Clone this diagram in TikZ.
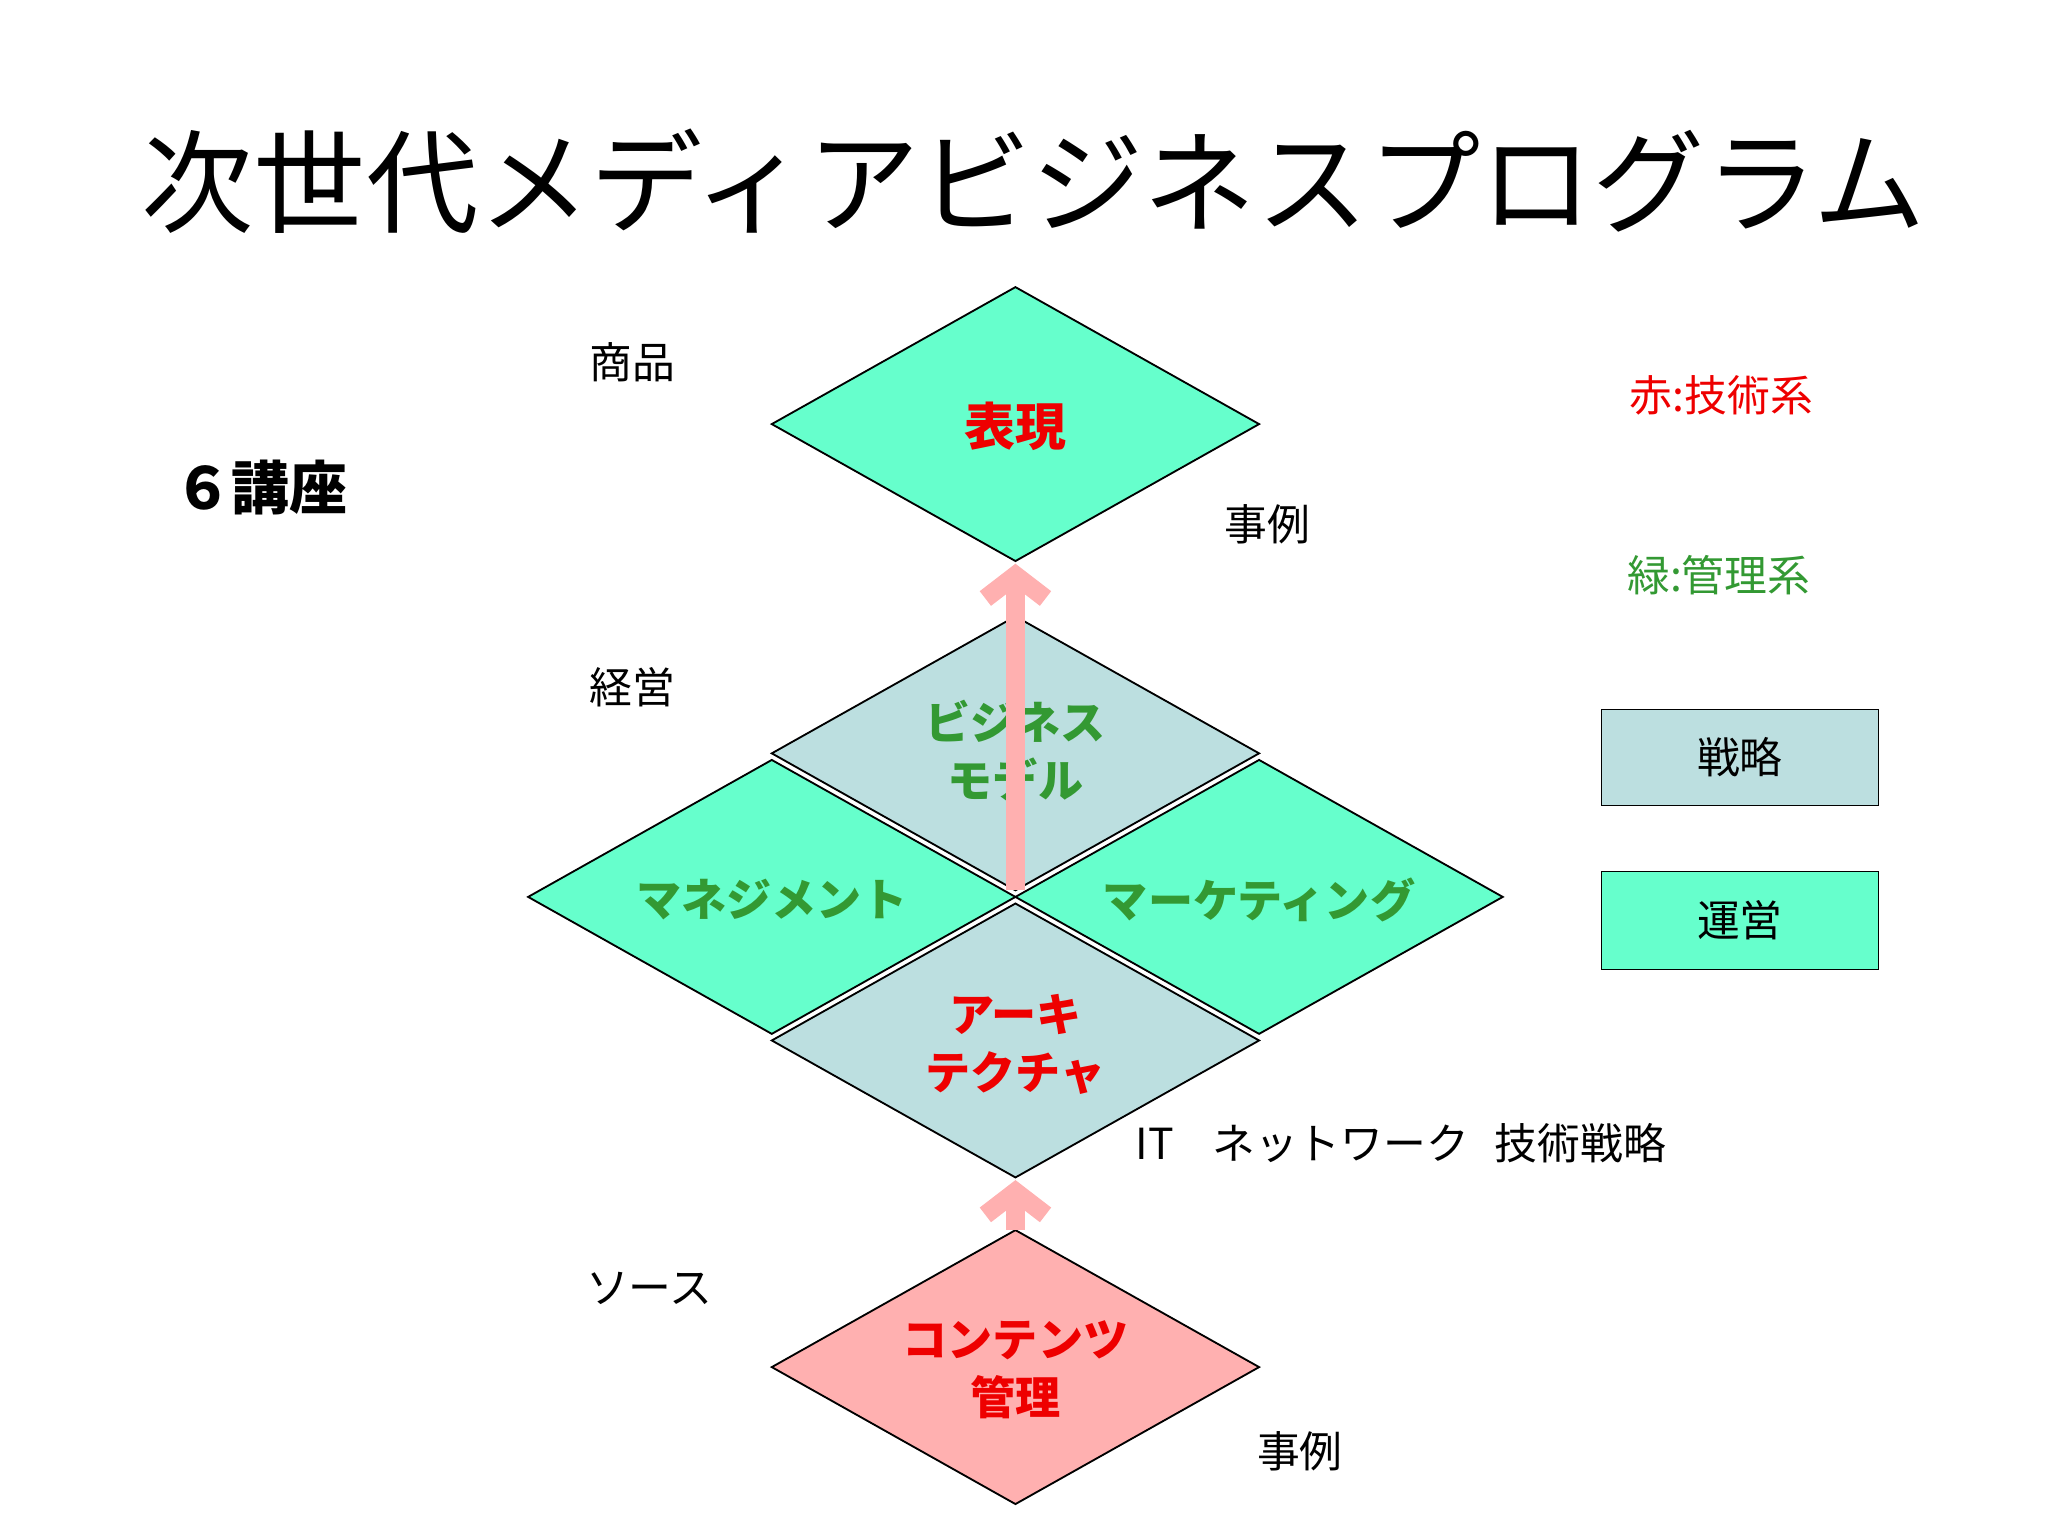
\documentclass[tikz,border=0pt]{standalone}
\usepackage{fontspec}
\setmainfont{Noto Sans CJK JP}
\usetikzlibrary{arrows.meta}
\definecolor{gr}{HTML}{66FFCC}
\definecolor{bl}{HTML}{BCDFE0}
\definecolor{pk}{HTML}{FFB0B0}
\definecolor{dg}{HTML}{339933}
\definecolor{rd}{HTML}{EE0000}
\tikzset{
 dia/.style={draw=black,line width=0.8pt},
 lab/.style={font=\fontsize{18.5}{22}\selectfont},
 dtxt/.style={font=\fontsize{19.5}{25}\selectfont\bfseries,align=center},
 up/.style={draw=pk,line width=8pt,-{Straight Barb[length=10pt,width=26pt,line width=8pt]}},
}
\begin{document}
\begin{tikzpicture}[x=0.02cm,y=-0.02cm]
\useasboundingbox (0,0) rectangle (1555,1166);
\node (title) at (785,138) {\fontsize{48.5}{54}\selectfont 次世代メディアビジネスプログラム};
% diamonds
\newcommand\dmd[3]{\filldraw[dia,fill=#3] (#1-185,#2) -- (#1,#2-104) -- (#1+185,#2) -- (#1,#2+104) -- cycle;}
\dmd{771}{322}{gr}
\dmd{771}{572}{bl}
\dmd{586}{681}{gr}
\dmd{956}{681}{gr}
\dmd{771}{790}{bl}
\dmd{771}{1038}{pk}
\node[dtxt,text=rd,font=\fontsize{22}{27}\selectfont\bfseries] (hyogen) at (771,324) {表現};
\node[dtxt,text=dg] (biz) at (771,570) {ビジネス\\モデル};
\node[dtxt,text=dg] (mgmt) at (586,683) {マネジメント};
\node[dtxt,text=dg] (mkt) at (956,683) {マーケティング};
\node[dtxt,text=rd] (arch) at (771,793) {アーキ\\テクチャ};
\node[dtxt,text=rd] (cont) at (771,1040) {コンテンツ\\管理};
\coordinate (a1s) at (771,676);
\coordinate (a1e) at (771,428);
\coordinate (a2s) at (771,934);
\coordinate (a2e) at (771,896);
\draw[up] (a1s) -- (a1e);
\draw[up] (a2s) -- (a2e);
% labels
\node[lab] (l1) at (480,275) {商品};
\node[lab] (l2) at (962,398) {事例};
\node[lab] (l3) at (480,522) {経営};
\node[lab] (l4) at (493,978) {ソース};
\node[lab] (l5) at (987,1102) {事例};
\node[lab,anchor=west] (l6) at (856,868) {IT\hspace{0.9em}ネットワーク\hspace{0.6em}技術戦略};
\node[font=\fontsize{25}{30}\selectfont\bfseries] (kouza) at (198,370) {６講座};
\node[lab,text=rd] (red) at (1307,300) {赤:技術系};
\node[lab,text=dg] (grn) at (1305,437) {緑:管理系};
\node[draw,fill=bl,minimum width=210*0.02cm,minimum height=73*0.02cm,lab] (senryaku) at (1321,575) {戦略};
\node[draw,fill=gr,minimum width=210*0.02cm,minimum height=74*0.02cm,lab] (unei) at (1321,699) {運営};
\end{tikzpicture}
\end{document}
